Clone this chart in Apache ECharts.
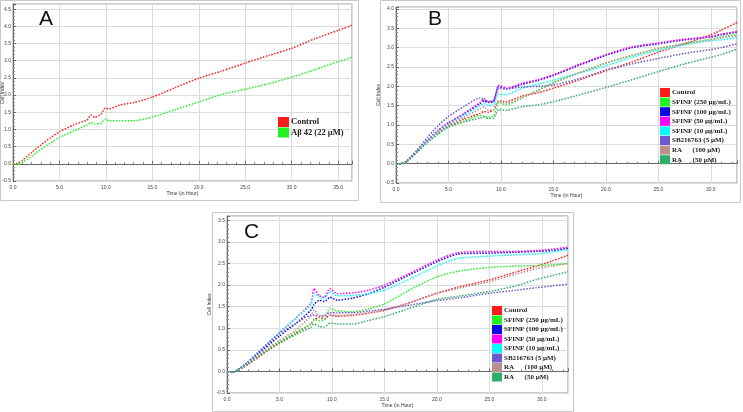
<!DOCTYPE html>
<html><head><meta charset="utf-8">
<script src="https://cdn.jsdelivr.net/npm/echarts/dist/echarts.min.js"></script>
<style>html,body{margin:0;padding:0;background:#fff}#c{width:743px;height:412px}</style>
</head><body><div id="c"></div>
<script>
// ---------- Panel A ----------
const timeA = [0, 0.5, 1, 2, 3, 4, 5, 6.5, 8, 8.4, 8.8, 9.5, 9.9, 10.4, 11.5, 13, 15, 17.5, 20, 22.5, 25, 27.5, 30, 32.5, 35, 36.5];
const A_control = [0, 0.02, 0.1, 0.33, 0.55, 0.75, 0.93, 1.13, 1.28, 1.42, 1.35, 1.45, 1.62, 1.6, 1.71, 1.78, 1.94, 2.22, 2.49, 2.7, 2.93, 3.15, 3.36, 3.64, 3.88, 4.03];
const A_abeta = [0, -0.02, 0.04, 0.22, 0.42, 0.6, 0.77, 0.95, 1.13, 1.2, 1.16, 1.18, 1.3, 1.25, 1.25, 1.25, 1.36, 1.58, 1.8, 2.02, 2.17, 2.33, 2.52, 2.74, 2.97, 3.1];

// ---------- Panel B ----------
const timeB = [0, 0.5, 1, 2, 3, 4, 5, 6.5, 8, 8.4, 8.8, 9.3, 9.8, 10.5, 12, 13.5, 15, 17.5, 20, 22.5, 25, 27.5, 30, 31, 32.5];
const B_control = [0, 0, 0.06, 0.31, 0.58, 0.8, 0.98, 1.15, 1.3, 1.35, 1.33, 1.4, 1.62, 1.6, 1.75, 1.83, 1.95, 2.17, 2.4, 2.63, 2.88, 3.1, 3.33, 3.45, 3.65];
const B_sf250 = [0, 0, 0.05, 0.3, 0.56, 0.78, 0.95, 1.1, 1.25, 1.22, 1.2, 1.24, 1.58, 1.52, 1.7, 1.9, 2.1, 2.35, 2.6, 2.8, 2.98, 3.1, 3.22, 3.28, 3.33];
const B_sf100 = [0, 0, 0.06, 0.32, 0.6, 0.85, 1.05, 1.28, 1.55, 1.62, 1.58, 1.6, 2.0, 1.93, 2.05, 2.15, 2.28, 2.55, 2.8, 3.0, 3.1, 3.2, 3.28, 3.33, 3.4];
const B_sf50 = [0, 0, 0.06, 0.32, 0.61, 0.86, 1.06, 1.3, 1.58, 1.68, 1.6, 1.62, 2.03, 1.95, 2.08, 2.17, 2.3, 2.57, 2.82, 3.02, 3.12, 3.22, 3.28, 3.35, 3.42];
const B_sf10 = [0, 0, 0.06, 0.31, 0.59, 0.83, 1.02, 1.25, 1.5, 1.55, 1.5, 1.52, 1.8, 1.78, 1.95, 2.05, 2.16, 2.35, 2.53, 2.75, 2.93, 3.07, 3.18, 3.2, 3.25];
const B_sb = [0, 0, 0.07, 0.35, 0.68, 0.98, 1.22, 1.48, 1.7, 1.65, 1.6, 1.65, 1.95, 1.93, 1.98, 2.0, 2.03, 2.2, 2.42, 2.58, 2.72, 2.85, 2.95, 3.0, 3.1];
const B_ra100 = [0, 0, 0.05, 0.3, 0.57, 0.8, 1.0, 1.2, 1.42, 1.47, 1.38, 1.4, 1.62, 1.55, 1.7, 1.88, 2.08, 2.35, 2.6, 2.8, 2.97, 3.1, 3.2, 3.25, 3.3];
const B_ra50 = [0, 0, 0.05, 0.29, 0.55, 0.76, 0.95, 1.08, 1.18, 1.2, 1.17, 1.18, 1.4, 1.38, 1.47, 1.52, 1.6, 1.78, 1.97, 2.17, 2.38, 2.58, 2.75, 2.82, 2.96];

// ---------- Panel C ----------
const timeC = [0, 0.5, 1, 2, 3, 4, 5, 6.5, 8, 8.3, 8.8, 9.3, 9.8, 10.5, 12, 13.5, 15, 17.5, 20, 22, 25, 27.5, 29.5, 31, 32.5];
const C_control = [0, -0.02, 0.02, 0.16, 0.33, 0.5, 0.65, 0.87, 1.1, 1.2, 1.25, 1.22, 1.3, 1.28, 1.3, 1.35, 1.42, 1.6, 1.81, 1.95, 2.12, 2.3, 2.44, 2.56, 2.69];
const C_sf250 = [0, -0.02, 0.02, 0.18, 0.36, 0.52, 0.68, 0.9, 1.1, 1.2, 1.18, 1.2, 1.46, 1.4, 1.38, 1.45, 1.56, 1.9, 2.19, 2.32, 2.41, 2.44, 2.45, 2.47, 2.5];
const C_sf100 = [0, -0.02, 0.03, 0.2, 0.42, 0.62, 0.82, 1.1, 1.42, 1.55, 1.65, 1.62, 1.72, 1.65, 1.7, 1.8, 1.95, 2.25, 2.54, 2.72, 2.74, 2.76, 2.78, 2.8, 2.85];
const C_sf50 = [0, -0.02, 0.03, 0.22, 0.45, 0.68, 0.9, 1.22, 1.58, 1.92, 1.75, 1.72, 1.92, 1.8, 1.82, 1.88, 2.0, 2.28, 2.58, 2.75, 2.78, 2.78, 2.8, 2.83, 2.88];
const C_sf10 = [0, -0.02, 0.03, 0.22, 0.45, 0.68, 0.9, 1.22, 1.55, 1.8, 1.72, 1.7, 1.85, 1.75, 1.76, 1.8, 1.88, 2.15, 2.44, 2.62, 2.67, 2.7, 2.72, 2.76, 2.82];
const C_sb = [0, -0.02, 0.03, 0.22, 0.44, 0.66, 0.88, 1.1, 1.3, 1.3, 1.28, 1.3, 1.36, 1.36, 1.36, 1.4, 1.44, 1.54, 1.64, 1.7, 1.81, 1.88, 1.94, 1.98, 2.02];
const C_ra100 = [0, -0.02, 0.02, 0.18, 0.38, 0.56, 0.72, 0.95, 1.28, 1.42, 1.3, 1.28, 1.3, 1.3, 1.31, 1.36, 1.41, 1.6, 1.81, 1.92, 2.08, 2.25, 2.38, 2.44, 2.5];
const C_ra50 = [0, -0.02, 0.02, 0.17, 0.35, 0.52, 0.66, 0.85, 1.02, 1.1, 1.04, 1.03, 1.12, 1.1, 1.1, 1.18, 1.27, 1.47, 1.67, 1.74, 1.85, 1.98, 2.13, 2.22, 2.31];

const legendA = ['Control', 'Aβ 42 (22 µM)'];
const legendBC = ['Control', 'SFINF (250 µg/mL)', 'SFINF (100 µg/mL)', 'SFINF (50 µg/mL)', 'SFINF (10 µg/mL)', 'SB216763 (5 µM)', 'RA      (100 µM)', 'RA      (50 µM)'];
const colorsBC = ['#ff1a1a', '#22f022', '#0a0ae6', '#ff00ff', '#00ffff', '#6a5acd', '#bc8f8f', '#2fae6a'];
const colorsA = ['#ff1a1a', '#22f022'];
const panelLetters = ['A', 'B', 'C'];
const yTitle = 'Cell Index';
const xTitle = 'Time (in Hour)';

const chart = echarts.init(document.getElementById('c'));
const fmt = v => (Math.abs(v * 2 - Math.round(v * 2)) < 1e-6) ? v.toFixed(1) : '';

function xAx(gi, max) {
  return {
    type: 'value', gridIndex: gi, min: 0, max: max, interval: 5,
    name: xTitle, nameLocation: 'middle', nameGap: 10,
    nameTextStyle: { fontSize: 5, color: '#333', fontFamily: 'Liberation Sans' },
    axisLine: { lineStyle: { color: '#666', width: 1 } },
    axisTick: { show: true, inside: true, length: 3, lineStyle: { color: '#666' } },
    minorTick: { show: true, splitNumber: 5, length: 2, lineStyle: { color: '#888' } },
    axisLabel: { fontSize: 5, color: '#444', margin: 4, formatter: fmt, showMaxLabel: false },
    splitLine: { show: true, lineStyle: { color: '#dcdcdc', width: 1 } }
  };
}
function yAx(gi, max, withName) {
  return {
    type: 'value', gridIndex: gi, min: -0.5, max: max, interval: 0.5,
    name: withName ? yTitle : '', nameLocation: 'middle', nameGap: 9, nameRotate: 90,
    nameTextStyle: { fontSize: 5, color: '#333', fontFamily: 'Liberation Sans' },
    axisLine: { show: true, lineStyle: { color: '#666', width: 1 } },
    axisTick: { show: true, inside: true, length: 3, lineStyle: { color: '#666' } },
    minorTick: { show: true, splitNumber: 5, length: 2, lineStyle: { color: '#888' } },
    axisLabel: { fontSize: 5, color: '#444', margin: 2, formatter: fmt, showMaxLabel: false },
    splitLine: { show: true, lineStyle: { color: '#dcdcdc', width: 1 } }
  };
}
function ser(name, color, times, vals, gi) {
  return {
    type: 'line', name: name, xAxisIndex: gi, yAxisIndex: gi,
    data: times.map((t, i) => [t, vals[i]]),
    symbol: 'none', smooth: 0.2, color: color,
    lineStyle: { color: color, width: 1.5, type: 'dotted' },
    animation: false
  };
}
const legendStyle = (left, top, size, h, gap, data) => ({
  left: left, top: top, orient: 'vertical', data: data, icon: 'rect',
  itemWidth: h + 1, itemHeight: h, itemGap: gap, padding: 0,
  selectedMode: false,
  textStyle: { fontFamily: 'Liberation Serif', fontWeight: 'bold', fontSize: size, color: '#222', padding: [0, 0, 0, -3] }
});

const Bvals = [B_control, B_sf250, B_sf100, B_sf50, B_sf10, B_sb, B_ra100, B_ra50];
const Cvals = [C_control, C_sf250, C_sf100, C_sf50, C_sf10, C_sb, C_ra100, C_ra50];
const series = [
  ser(legendA[0], colorsA[0], timeA, A_control, 0),
  ser(legendA[1], colorsA[1], timeA, A_abeta, 0)
];
legendBC.forEach((n, i) => series.push(ser(n, colorsBC[i], timeB, Bvals[i], 1)));
legendBC.forEach((n, i) => series.push(ser(n, colorsBC[i], timeC, Cvals[i], 2)));

const frame = (x, y, w, h) => ({ type: 'rect', shape: { x: x, y: y, width: w, height: h }, style: { fill: 'none', stroke: '#c8c8c8', lineWidth: 1 }, silent: true });
const letter = (x, y, t) => ({ type: 'text', left: x, top: y, style: { text: t, fontSize: 21, fontFamily: 'Liberation Sans', fill: '#111' }, z: 10 });
const gridBase = { show: true, borderColor: '#999', borderWidth: 1, backgroundColor: '#fff', containLabel: false, outerBoundsMode: 'none' };

chart.setOption({
  animation: false,
  backgroundColor: '#fff',
  grid: [
    Object.assign({ left: 13, top: 4, width: 339, height: 177 }, gridBase),
    Object.assign({ left: 396, top: 7, width: 341, height: 176 }, gridBase),
    Object.assign({ left: 227, top: 216, width: 341, height: 177 }, gridBase)
  ],
  xAxis: [xAx(0, 36.5), xAx(1, 32.5), xAx(2, 32.5)],
  yAxis: [yAx(0, 4.65, false), yAx(1, 4.05, true), yAx(2, 3.6, true)],
  legend: [
    legendStyle(278, 117, 8.5, 10, 0.5, legendA),
    legendStyle(660, 88, 7, 9, 0.6, legendBC),
    legendStyle(492, 306, 7, 9, 0.5, legendBC)
  ],
  graphic: [
    frame(0.5, 0.5, 358, 200),
    frame(380.5, 0.5, 360, 202),
    frame(212.5, 212.5, 361, 199),
    letter(39, 9, panelLetters[0]),
    letter(428, 9, panelLetters[1]),
    letter(244, 222, panelLetters[2]),
    { type: 'text', x: 3, y: 93, rotation: Math.PI / 2,
      style: { text: yTitle, fontSize: 5, fontFamily: 'Liberation Sans', fill: '#333', align: 'center', verticalAlign: 'middle' }, z: 10 }
  ],
  series: series
});
</script>
</body></html>
